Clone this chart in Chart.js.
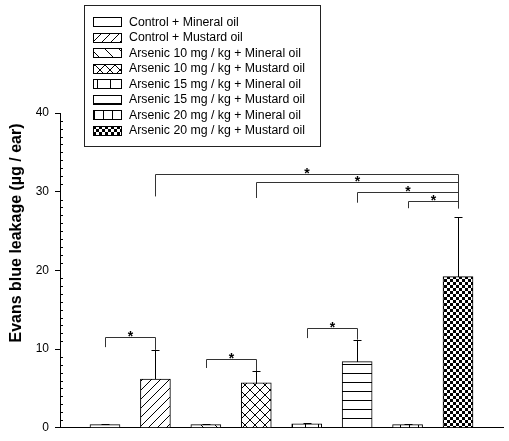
<!DOCTYPE html>
<meta charset="utf-8">
<title>Evans blue leakage</title>
<style>body{margin:0;background:#fff}</style>
<canvas id="chart" width="509" height="441"></canvas>
<script src="https://cdn.jsdelivr.net/npm/chart.js@4"></script>
<script>
  const groups = [
    "Control + Mineral oil",
    "Control + Mustard oil",
    "Arsenic 10 mg / kg + Mineral oil",
    "Arsenic 10 mg / kg + Mustard oil",
    "Arsenic 15 mg / kg + Mineral oil",
    "Arsenic 15 mg / kg + Mustard oil",
    "Arsenic 20 mg / kg + Mineral oil",
    "Arsenic 20 mg / kg + Mustard oil",
  ]
  const means = [0.4, 6.2, 0.4, 5.7, 0.5, 8.4, 0.4, 19.2]
  const errs = [0.1, 3.7, 0.1, 1.5, 0.1, 2.8, 0.1, 7.6]
  // [left bar, right bar, bracket level, left leg end, right leg end]
  const sigLinks = [
    [1, 2, 11.5, 10.25, 9.9],
    [3, 4, 8.8, 7.6, 7.2],
    [5, 6, 12.7, 11.4, 11.2],
    [2, 8, 32.3, 29.4, 27.9],
    [4, 8, 31.2, 29.2, 27.9],
    [6, 8, 30.0, 28.6, 27.9],
    [7, 8, 28.8, 27.9, 27.9],
  ]
  const yMax = 40
  const yStep = 10
  const yTitle = "Evans blue leakage (µg / ear)"

  const FONT = "'Liberation Sans', Arial, sans-serif"
  Chart.defaults.font.family = FONT
  Chart.defaults.color = "#000"

  function pattern(w, h, draw) {
    const c = document.createElement("canvas")
    c.width = w
    c.height = h
    const g = c.getContext("2d")
    g.fillStyle = "#fff"
    g.fillRect(0, 0, w, h)
    g.strokeStyle = "#000"
    g.fillStyle = "#000"
    g.lineWidth = 1
    g.beginPath()
    draw(g, w, h)
    g.stroke()
    return g.createPattern(c, "repeat")
  }
  const slash = (g, s) => { for (const o of [-s, 0, s]) { g.moveTo(o, s); g.lineTo(o + s, 0) } }
  const backslash = (g, s) => { for (const o of [-s, 0, s]) { g.moveTo(o, 0); g.lineTo(o + s, s) } }

  const fills = [
    "#fff",
    pattern(9, 9, slash),
    pattern(14, 14, backslash),
    pattern(10, 10, (g, s) => { slash(g, s); backslash(g, s) }),
    pattern(13, 4, (g, w, h) => { g.moveTo(6.5, 0); g.lineTo(6.5, h) }),
    pattern(4, 9, (g, w, h) => { g.moveTo(0, 4.5); g.lineTo(w, 4.5) }),
    pattern(9, 4, (g, w, h) => { g.moveTo(4.5, 0); g.lineTo(4.5, h) }),
    pattern(6, 6, g => { g.fillRect(0, 0, 6, 6); g.fillStyle = "#fff"; g.fillRect(0, 0, 3, 3); g.fillRect(3, 3, 3, 3) }),
  ]

  const extras = {
    id: "extras",
    afterDatasetsDraw(chart) {
      const { ctx, scales: { x, y }, chartArea } = chart
      ctx.save()
      ctx.lineWidth = 1
      ctx.strokeStyle = "#000"
      // error bars (upper only)
      means.forEach((m, i) => {
        const px = Math.round(x.getPixelForValue(i + 1)) + 0.5
        const top = Math.round(y.getPixelForValue(m + errs[i])) + 0.5
        ctx.beginPath()
        ctx.moveTo(px, Math.round(y.getPixelForValue(m)))
        ctx.lineTo(px, top)
        ctx.moveTo(px - 4, top)
        ctx.lineTo(px + 4, top)
        ctx.stroke()
      })
      // significance brackets
      ctx.strokeStyle = "#333"
      ctx.fillStyle = "#000"
      ctx.font = "bold 14px " + FONT
      ctx.textAlign = "center"
      ctx.textBaseline = "alphabetic"
      for (const [a, b, lvl, la, lb] of sigLinks) {
        const xa = Math.round(x.getPixelForValue(a)) + 0.5
        const xb = Math.round(x.getPixelForValue(b)) + 0.5
        const yl = Math.round(y.getPixelForValue(lvl)) + 0.5
        ctx.beginPath()
        ctx.moveTo(xa, y.getPixelForValue(la))
        ctx.lineTo(xa, yl)
        ctx.lineTo(xb, yl)
        ctx.lineTo(xb, y.getPixelForValue(lb))
        ctx.stroke()
        ctx.fillText("*", (xa + xb) / 2, yl + 3)
      }
      // minor ticks, inward
      ctx.strokeStyle = "#000"
      ctx.beginPath()
      for (let v = 0; v <= yMax; v++) {
        if (v % yStep === 0) continue
        const py = Math.round(y.getPixelForValue(v)) + 0.5
        ctx.moveTo(chartArea.left, py)
        ctx.lineTo(chartArea.left + 3, py)
      }
      ctx.stroke()
      ctx.restore()
    },
    afterDraw(chart) {
      const { ctx } = chart
      ctx.save()
      // axis title
      ctx.translate(17, 233)
      ctx.rotate(-Math.PI / 2)
      ctx.font = "bold 16px " + FONT
      ctx.fillStyle = "#000"
      ctx.textAlign = "center"
      ctx.textBaseline = "middle"
      ctx.fillText(yTitle, 0, 0)
      ctx.restore()
      // legend box
      ctx.save()
      ctx.strokeStyle = "#222"
      ctx.lineWidth = 1
      ctx.strokeRect(84.5, 5.5, 236, 141)
      ctx.font = "12.3px " + FONT
      ctx.textBaseline = "middle"
      chart.data.datasets.forEach((ds, i) => {
        const cy = 22 + i * 15.5
        const top = Math.round(cy - 5)
        ctx.fillStyle = ds.backgroundColor
        ctx.fillRect(93, top, 29, 10)
        ctx.strokeStyle = "#000"
        ctx.strokeRect(93.5, top + 0.5, 28, 9)
        ctx.fillStyle = "#000"
        ctx.fillText(ds.label, 129, cy + 0.5)
      })
      ctx.restore()
    },
  }

  new Chart(document.getElementById("chart"), {
    type: "bar",
    data: {
      datasets: groups.map((g, i) => ({
        label: g,
        data: [{ x: i + 1, y: means[i] }],
        backgroundColor: fills[i],
        borderColor: "#000",
        borderWidth: 1,
        barThickness: 30,
        grouped: false,
      })),
    },
    options: {
      responsive: false,
      animation: false,
      layout: { padding: { top: 113, right: 6, bottom: 8, left: 0 } },
      plugins: { legend: { display: false }, tooltip: { enabled: false } },
      scales: {
        x: {
          type: "linear",
          offset: false,
          min: 0.108,
          max: 8.892,
          ticks: { display: false },
          grid: { display: false },
          border: { color: "#000" },
          afterFit: s => { s.height = 0 },
        },
        y: {
          min: 0,
          max: yMax,
          ticks: { stepSize: yStep, padding: 6, font: { size: 12 }, color: "#000" },
          grid: { drawOnChartArea: false, tickLength: 5, tickColor: "#000" },
          border: { color: "#000" },
          afterFit: s => { s.width = 60 },
        },
      },
    },
    plugins: [extras],
  })
</script>
